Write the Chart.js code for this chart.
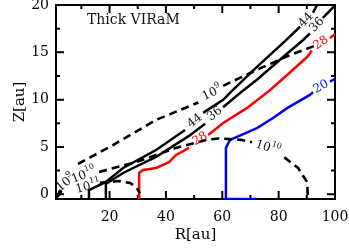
<!DOCTYPE html>
<html><head><meta charset="utf-8">
<script src="https://cdn.jsdelivr.net/npm/chart.js@4/dist/chart.umd.min.js"></script>
<style>html,body{margin:0;padding:0;background:#fff}</style>
</head><body>
<canvas id="c" width="349" height="249"></canvas>
<script>
// ---- axis ticks ----
const xTicks = [20, 40, 60, 80, 100];
const xMinorTicks = [10, 30, 50, 70, 90];
const yTicks = [0, 5, 10, 15, 20];
const yMinorTicks = [2.5, 7.5, 12.5, 17.5];

// ---- contour series (R, Z in au); null = gap where a label sits ----
const r44 = [12.7, 12.7, 18.7, 24.8, 36.5, 46.8, null, 53.2, 60.3, 63.8, 72.3, 81.6, 87.6, null, 92.2, 94.5];
const z44 = [-0.5, 0.45, 1.3, 2.78, 4.68, 6.8, null, 8.6, 9.98, 11.03, 13.47, 16.0, 17.7, null, 19.2, 20.5];

const r36 = [18.7, 18.7, 24.8, 36.5, 48.2, 53.9, null, 60.3, 66.3, 72.3, 81.6, 88.7, 91.1, null, 95.7, 100.5];
const z36 = [-0.5, 1.1, 2.25, 3.94, 6.17, 7.44, null, 9.2, 10.7, 12.1, 14.5, 16.3, 17.0, null, 18.65, 20.1];

const r28 = [30.5, 30.5, 31.9, 36.5, 41.1, 43.6, 48.2, null, 55.0, 60.3, 68.8, 76.9, 83.0, 90.1, 91.8, null, 98.2, 100.7];
const z28 = [-0.5, 2.25, 2.57, 2.78, 3.4, 4.16, 4.9, null, 6.27, 7.54, 9.13, 11.0, 12.6, 14.5, 15.2, null, 16.5, 17.1];

const r20 = [72.3, 61.3, 61.3, 62.7, 65.2, 72.3, 78.0, 83.0, 91.1, 92.2, null, 98.2, 100.7];
const z20 = [-0.5, -0.5, 4.9, 5.74, 6.06, 7.0, 8.06, 9.1, 10.5, 10.8, null, 11.9, 12.3];

const r1e9 = [1.3, 2.8, null, 8.8, 21.2, 36.5, 51.5, null, 60.3, 72.3, 84.0, 92.9];
const z1e9 = [-0.3, 0.6, null, 3.2, 5.2, 7.86, 9.7, null, 11.46, 13.15, 14.7, 15.7];

const r1e10 = [1.3, 3.0, null, 16.3, 29.4, 43.6, 54.2, 58.5, 67.0, 70.6, null, 82.0, 86.9, 90.1, 90.4];
const z1e10 = [-0.3, 0.4, null, 2.36, 3.4, 4.9, 5.74, 5.9, 5.74, 5.5, null, 3.9, 2.78, 1.3, -0.5];

const r1e11 = [1.3, 3.0, null, 16.6, 23.4, 27.3, 29.7, 30.8];
const z1e11 = [-0.3, 0.2, null, 1.2, 1.4, 1.2, 0.66, 0.1];

// ---- contour labels ----
const labelText = ['44', '36', '44', '36', '28', '28', '20', '10', '10', '10', '10', '10'];
const labelSup  = ['', '', '', '', '', '', '', '9', '9', '10', '10', '11'];
const labelR    = [50.3, 57.4, 89.7, 93.6, 52.1, 95.0, 95.0, 4.5, 56.4, 10.9, 76.2, 12.4];
const labelZ    = [7.75, 8.5, 18.4, 17.9, 5.85, 16.0, 11.35, 1.2, 10.7, 2.0, 4.9, 0.8];
// label styles
const labelStyle = [
  {a:-38, c:'#111'}, {a:-38, c:'#111'}, {a:-47, c:'#111'}, {a:-47, c:'#111'},
  {a:-30, c:'#ff0000'}, {a:-35, c:'#ff0000'}, {a:-28, c:'#0000ff'},
  {a:-40, c:'#111'}, {a:-25, c:'#111'}, {a:-22, c:'#111'}, {a:18, c:'#111'}, {a:-15, c:'#111'}
];

const FONT = '"DejaVu Serif", "Liberation Serif", serif';
const pts = (r, z) => r.map((v, i) => ({x: v, y: z[i]}));

const frameTicks = {
  id: 'frameTicks',
  beforeDatasetsDraw(chart) {
    const {ctx, chartArea: a, scales: {x, y}} = chart;
    ctx.save();
    ctx.strokeStyle = '#000';
    ctx.lineWidth = 2;
    ctx.strokeRect(a.left, a.top, a.right - a.left, a.bottom - a.top);
    ctx.beginPath();
    const xt = (v, len) => {
      const p = x.getPixelForValue(v);
      ctx.moveTo(p, a.bottom); ctx.lineTo(p, a.bottom - len);
      ctx.moveTo(p, a.top); ctx.lineTo(p, a.top + len);
    };
    const yt = (v, len) => {
      const p = y.getPixelForValue(v);
      ctx.moveTo(a.left, p); ctx.lineTo(a.left + len, p);
      ctx.moveTo(a.right, p); ctx.lineTo(a.right - len, p);
    };
    xTicks.forEach(v => xt(v, 8));
    xMinorTicks.forEach(v => xt(v, 4));
    yTicks.forEach(v => yt(v, 8));
    yMinorTicks.forEach(v => yt(v, 4));
    ctx.stroke();
    ctx.restore();
  }
};

const contourLabels = {
  id: 'contourLabels',
  afterDatasetsDraw(chart) {
    const {ctx, chartArea: a, scales: {x, y}} = chart;
    ctx.save();
    labelText.forEach((t, i) => {
      const px = x.getPixelForValue(labelR[i]);
      const py = y.getPixelForValue(labelZ[i]);
      const st = labelStyle[i];
      ctx.save();
      ctx.translate(px, py);
      ctx.rotate(st.a * Math.PI / 180);
      ctx.fillStyle = st.c;
      ctx.textBaseline = 'middle';
      ctx.textAlign = 'left';
      ctx.font = '12px ' + FONT;
      const wb = ctx.measureText(t).width;
      let ws = 0;
      if (labelSup[i]) { ctx.font = '8px ' + FONT; ws = ctx.measureText(labelSup[i]).width; }
      const tot = wb + ws;
      ctx.font = '12px ' + FONT;
      ctx.fillText(t, -tot / 2, 0);
      if (labelSup[i]) { ctx.font = '8px ' + FONT; ctx.fillText(labelSup[i], -tot / 2 + wb, -5); }
      ctx.restore();
    });
    ctx.font = '14px ' + FONT;
    ctx.fillStyle = '#111';
    ctx.textBaseline = 'middle';
    ctx.textAlign = 'left';
    ctx.fillText('Thick VIRaM', a.left + 31, a.top + 15);
    ctx.restore();
  }
};

const solid = (data, color) => ({data, borderColor: color, borderWidth: 2.5, pointRadius: 0, spanGaps: false, tension: 0, fill: false});
const dashed = (data) => ({data, borderColor: '#000', borderWidth: 2.6, borderDash: [8, 5], pointRadius: 0, spanGaps: false, tension: 0, fill: false});

new Chart(document.getElementById('c'), {
  type: 'line',
  data: {
    datasets: [
      dashed(pts(r1e9, z1e9)),
      dashed(pts(r1e10, z1e10)),
      dashed(pts(r1e11, z1e11)),
      solid(pts(r44, z44), '#000'),
      solid(pts(r36, z36), '#000'),
      solid(pts(r28, z28), '#ff0000'),
      solid(pts(r20, z20), '#0000ff')
    ]
  },
  options: {
    responsive: false,
    devicePixelRatio: 1,
    animation: false,
    layout: {padding: {top: 5, right: 14, left: 0, bottom: 0}},
    plugins: {legend: {display: false}, tooltip: {enabled: false}},
    scales: {
      x: {
        type: 'linear', min: 1, max: 100,
        afterBuildTicks: s => { s.ticks = xTicks.map(v => ({value: v})); },
        afterFit: s => { s.height = 50; s.paddingLeft = 0; s.paddingRight = 0; },
        grid: {display: false, drawTicks: false},
        border: {display: false},
        ticks: {font: {family: FONT, size: 14}, color: '#000', padding: 10, maxRotation: 0, autoSkip: false},
        title: {display: true, text: 'R[au]', font: {family: FONT, size: 15}, color: '#000', padding: {top: 0, bottom: 5}}
      },
      y: {
        type: 'linear', min: -0.5, max: 20,
        afterBuildTicks: s => { s.ticks = yTicks.map(v => ({value: v})); },
        afterFit: s => { s.width = 56; s.paddingTop = 0; s.paddingBottom = 0; },
        grid: {display: false, drawTicks: false},
        border: {display: false},
        ticks: {font: {family: FONT, size: 14}, color: '#000', padding: 7, autoSkip: false},
        title: {display: true, text: 'Z[au]', font: {family: FONT, size: 15}, color: '#000', padding: {top: 11, bottom: 0}}
      }
    }
  },
  plugins: [frameTicks, contourLabels]
});
</script>
</body></html>
